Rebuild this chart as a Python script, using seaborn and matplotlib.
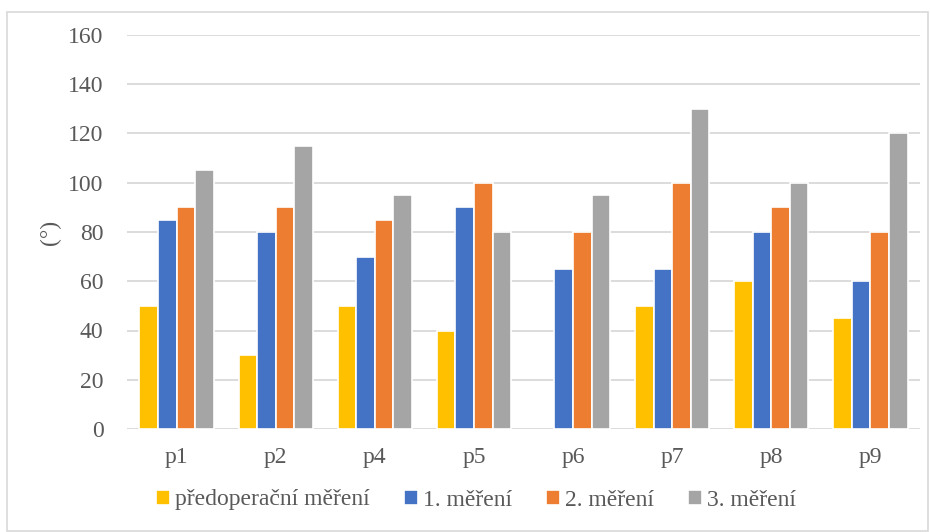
import numpy as np
import pandas as pd
import matplotlib
matplotlib.use("Agg")
import matplotlib.pyplot as plt
from matplotlib.patches import Rectangle
import seaborn as sns

# Patients and measurement series (angle in degrees)
patients = ["p1", "p2", "p4", "p5", "p6", "p7", "p8", "p9"]
series = ["předoperační měření", "1. měření", "2. měření", "3. měření"]
preop = [50, 30, 50, 40, np.nan, 50, 60, 45]
meas1 = [85, 80, 70, 90, 65, 65, 80, 60]
meas2 = [90, 90, 85, 100, 80, 100, 90, 80]
meas3 = [105, 115, 95, 80, 95, 130, 100, 120]
colors = ["#FFC000", "#4472C4", "#ED7D31", "#A5A5A5"]
yticks = [0, 20, 40, 60, 80, 100, 120, 140, 160]

df = pd.DataFrame({
    "patient": patients * 4,
    "series": np.repeat(series, len(patients)),
    "value": preop + meas1 + meas2 + meas3,
})

sns.set_theme(style="white")
plt.rcParams["font.family"] = ["Liberation Serif", "DejaVu Serif"]
text_color = "#595959"

fig = plt.figure(figsize=(9.3, 5.32), dpi=100)
ax = fig.add_axes([127 / 930, 1 - 429 / 532, 793 / 930, 394 / 532])

sns.barplot(
    data=df, x="patient", y="value", hue="series",
    order=patients, hue_order=series, palette=colors,
    width=0.75, edgecolor="white", linewidth=1.2,
    saturation=1, errorbar=None, ax=ax, zorder=3,
)

ax.set_ylim(0, 160)
ax.set_yticks(yticks)
ax.set_xlim(-0.5, len(patients) - 0.5)
ax.grid(axis="y", color="#D9D9D9", linewidth=1.3, zorder=0)
ax.set_axisbelow(True)
for s in ax.spines.values():
    s.set_visible(False)
ax.tick_params(axis="both", length=0, labelsize=17, colors=text_color)
ax.tick_params(axis="x", pad=13)
ax.tick_params(axis="y", pad=17)
ax.set_xlabel("")
ax.set_ylabel("")

fig.text(50 / 930, 1 - 232 / 532, "(°)", rotation=90, ha="center", va="center",
         fontsize=17, color=text_color)

leg = ax.legend(
    loc="center", bbox_to_anchor=(476 / 930, 1 - 500 / 532),
    bbox_transform=fig.transFigure, ncol=4, frameon=False,
    fontsize=17, handlelength=0.6, handleheight=0.6, handletextpad=0.2,
    columnspacing=1.45,
)
for t in leg.get_texts():
    t.set_color(text_color)

fig.patches.append(Rectangle((7 / 930, 1 / 532), 921 / 930, 519 / 532,
                             transform=fig.transFigure, fill=False,
                             edgecolor="#D9D9D9", linewidth=1.2))

fig.savefig("out.png", dpi=100, facecolor="white")
